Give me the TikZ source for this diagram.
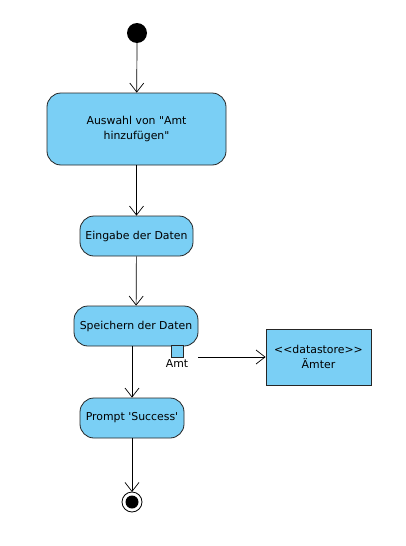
\documentclass[tikz,border=0pt]{standalone}
\usepackage{fontspec}
\setmainfont{DejaVu Sans}[Ligatures=TeXOff]
\usetikzlibrary{arrows.meta}
\usetikzlibrary{positioning}
\definecolor{actfill}{RGB}{122,207,245}

\begin{document}
\begin{tikzpicture}[
x=1pt,y=-1pt,
Action/.style={draw=black!85,fill=actfill,rounded corners=14pt,line width=0.8pt,align=center,inner sep=0pt},
Store/.style={draw=black!85,fill=actfill,line width=0.8pt,align=center,inner sep=0pt},
Flow/.style={-{Straight Barb[length=9pt,width=14pt,line width=0.7pt]},line width=0.7pt},
every node/.style={font=\fontsize{10.9}{15}\selectfont}
]
\useasboundingbox (0,0) rectangle (405,546);
%\draw[color=gray,step=50,dotted] (0,0) grid (405,546);

% initial and final states
\fill (137,33) circle (10);
\coordinate (Start) at (137,43);
\draw[line width=0.8pt,fill=white] (132,502) circle (10);
\fill (132,502) circle (6.5);
\coordinate (End) at (132,492);

% actions
\node[Action,minimum width=179pt,minimum height=72pt] (Auswahl) at (136.5,129) {Auswahl von "Amt\\hinzufügen"};
\node[Action,minimum width=113pt,minimum height=40pt] (Eingabe) at (136.5,236) {Eingabe der Daten};
\node[Action,minimum width=124pt,minimum height=40pt] (Speichern) at (136,326) {Speichern der Daten};
\node[Action,minimum width=104pt,minimum height=40pt] (Prompt) at (132,418) {Prompt 'Success'};

% output pin and data store
\node[Store,minimum size=12pt] (Pin) at (177,351) {};
\node[below=-1pt of Pin] (PinLabel) {Amt};
\coordinate (PinOut) at (198,357);
\node[Store,minimum width=105pt,minimum height=56pt] (Aemter) at (318.5,357) {<<datastore>>\\Ämter};

\draw[Flow] (Start) -- (Auswahl);
\draw[Flow] (Auswahl) -- (Eingabe);
\draw[Flow] (Eingabe) -- (Speichern);
\draw[Flow] (Speichern.south -| Prompt.north) -- (Prompt);
\draw[Flow] (Prompt) -- (End);
\draw[Flow] (PinOut) -- (Aemter);

\end{tikzpicture}
\end{document}
